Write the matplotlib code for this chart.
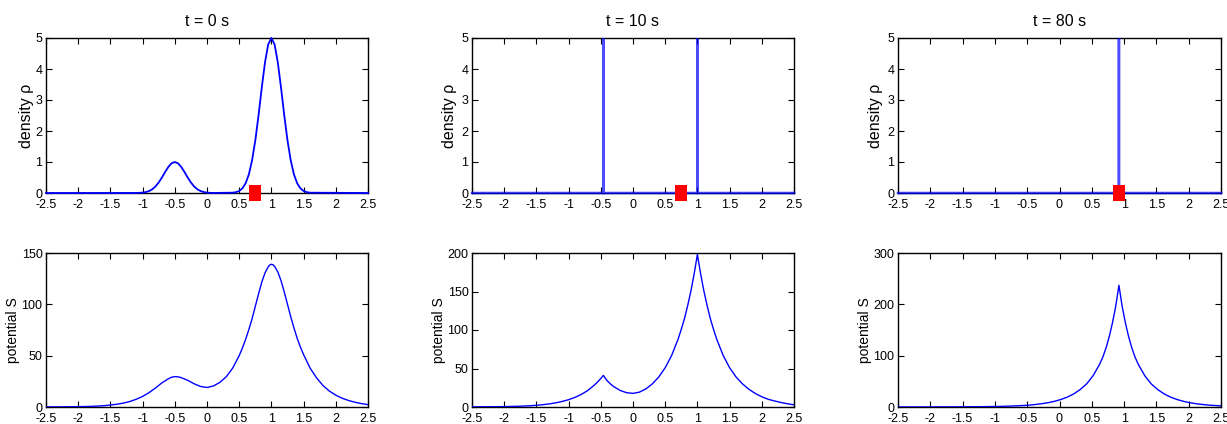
import matplotlib
matplotlib.use("Agg")
import matplotlib.pyplot as plt
from matplotlib.path import Path
from matplotlib import font_manager

# ---------------- data ----------------
titles = ["t = 0 s", "t = 10 s", "t = 80 s"]
x_ticks = [-2.5, -2, -1.5, -1, -0.5, 0, 0.5, 1, 1.5, 2, 2.5]
x_tick_labels = ["-2.5", "-2", "-1.5", "-1", "-0.5", "0", "0.5", "1", "1.5", "2", "2.5"]
rho_ticks = [0, 1, 2, 3, 4, 5]
S_ticks = [[0, 50, 100, 150], [0, 50, 100, 150, 200], [0, 100, 200, 300]]
S_ylim = [150, 200, 300]

# density at t = 0 (two bumps)
rho0_x = [-2.5, -1.1, -1.05, -1.0, -0.95, -0.9, -0.85, -0.8, -0.75, -0.7, -0.65, -0.6, -0.55,
          -0.5, -0.45, -0.4, -0.35, -0.3, -0.25, -0.2, -0.15, -0.1, -0.05, 0.0, 0.05, 0.1,
          0.4, 0.45, 0.5, 0.55, 0.6, 0.65, 0.7, 0.75, 0.8, 0.85, 0.9, 0.95,
          1.0, 1.05, 1.1, 1.15, 1.2, 1.25, 1.3, 1.35, 1.4, 1.45, 1.5, 1.55, 1.6, 2.5]
rho0_y = [0.0, 0.002, 0.005, 0.013, 0.03, 0.063, 0.12, 0.211, 0.339, 0.5, 0.678, 0.841, 0.958,
          1.0, 0.958, 0.841, 0.678, 0.5, 0.339, 0.211, 0.12, 0.063, 0.03, 0.013, 0.005, 0.002,
          0.01, 0.027, 0.065, 0.15, 0.315, 0.6, 1.055, 1.695, 2.5, 3.39, 4.205, 4.79,
          5.0, 4.79, 4.205, 3.39, 2.5, 1.695, 1.055, 0.6, 0.315, 0.15, 0.065, 0.027, 0.01, 0.0]

# density at t = 10 (two concentrated spikes, off the top of the axis) and t = 80 (one spike)
rho10_x = [-2.5, -0.462, -0.46, -0.458, 0.998, 1.0, 1.002, 2.5]
rho10_y = [0, 0, 5, 0, 0, 5, 0, 0]
rho80_x = [-2.5, 0.918, 0.92, 0.922, 2.5]
rho80_y = [0, 0, 5, 0, 0]

# red marker positions
marker_x = [0.75, 0.75, 0.92]
marker_y = [0, 0, 0]

# potential S at t = 0
S0_x = [-2.5, -2.4, -2.3, -2.2, -2.1, -2.0, -1.9, -1.8, -1.7, -1.6, -1.5, -1.4, -1.3, -1.2,
        -1.1, -1.0, -0.9, -0.8, -0.7, -0.6, -0.55, -0.5, -0.45, -0.4, -0.3, -0.2, -0.1, 0.0,
        0.1, 0.2, 0.3, 0.4, 0.5, 0.55, 0.6, 0.65, 0.7, 0.75, 0.8, 0.85, 0.9, 0.95, 0.975,
        1.0, 1.025, 1.05, 1.1, 1.15, 1.2, 1.25, 1.3, 1.35, 1.4, 1.45, 1.5, 1.6, 1.7, 1.8,
        1.9, 2.0, 2.1, 2.2, 2.3, 2.4, 2.5]
S0_y = [0.1, 0.12, 0.15, 0.2, 0.25, 0.3, 0.45, 0.6, 0.9, 1.3, 1.9, 2.7, 3.8, 5.3,
        7.5, 10.3, 14, 18.5, 23.5, 27.5, 29, 29.6, 29.4, 28.6, 26, 22.6, 20, 19,
        20.5, 24, 29.5, 38, 50, 57.5, 66, 75.5, 86, 98, 110, 121.5, 130.5, 136.5, 138.4,
        139, 138.5, 137, 131.5, 123, 112, 100, 88, 77, 67, 58.5, 51, 38, 28.5, 21,
        15.5, 11.5, 8.5, 6.3, 4.6, 3.3, 2.3]

# potential S at t = 10
S10_x = [-2.5, -2.2, -2.0, -1.9, -1.8, -1.7, -1.6, -1.5, -1.4, -1.3, -1.2, -1.1, -1.0, -0.9,
         -0.8, -0.7, -0.6, -0.55, -0.5, -0.46, -0.43, -0.4, -0.35, -0.3, -0.2, -0.1, 0.0,
         0.1, 0.2, 0.3, 0.4, 0.5, 0.6, 0.7, 0.75, 0.8, 0.85, 0.9, 0.95, 1.0, 1.05, 1.1,
         1.15, 1.2, 1.25, 1.3, 1.4, 1.5, 1.6, 1.7, 1.8, 1.9, 2.0, 2.1, 2.2, 2.3, 2.4, 2.5]
S10_y = [0.2, 0.35, 0.5, 0.7, 0.9, 1.2, 1.6, 2.2, 3.0, 4.0, 5.4, 7.2, 9.5, 12.5,
         16.5, 21.5, 28.5, 32.5, 37, 41, 37.5, 34, 30, 26.5, 21.5, 18.6, 17.7,
         19.3, 23.5, 30, 39, 51, 67, 88, 101, 115, 132, 151, 173, 198, 173, 151,
         132, 115, 101, 88, 67, 51, 39, 30, 23, 17.5, 13.3, 10, 7.8, 5.8, 4.2, 2.8]

# potential S at t = 80
S80_x = [-2.5, -2.0, -1.5, -1.2, -0.98, -0.88, -0.78, -0.68, -0.58, -0.48, -0.38, -0.28, -0.18,
         -0.08, 0.02, 0.12, 0.22, 0.32, 0.42, 0.52, 0.62, 0.67, 0.72, 0.77, 0.82, 0.87,
         0.92, 0.97, 1.02, 1.07, 1.12, 1.17, 1.22, 1.32, 1.42, 1.52, 1.62, 1.72, 1.82,
         1.92, 2.02, 2.12, 2.22, 2.32, 2.42, 2.5]
S80_y = [0.1, 0.2, 0.4, 0.65, 1.0, 1.3, 1.7, 2.2, 2.8, 3.5, 4.8, 6.3, 8.3,
         11, 14.6, 19.2, 25.5, 34, 45, 61, 83, 97, 115, 137, 164, 196,
         237, 196, 164, 137, 115, 97, 83, 61, 45, 34, 25.5, 19.2, 14.6,
         11, 8.3, 6.3, 4.8, 3.6, 2.8, 2.3]

# ---------------- style ----------------
avail = {f.name for f in font_manager.fontManager.ttflist}
narrow = "Liberation Sans Narrow" if "Liberation Sans Narrow" in avail else "Liberation Sans"
plt.rcParams["font.family"] = [narrow, "DejaVu Sans"]
plt.rcParams["axes.unicode_minus"] = False

fig = plt.figure(figsize=(12.27, 4.24), dpi=100)
W, H = 1227.0, 424.0

col_left = [46, 472, 898]
col_width = [322, 322, 323]
top_row = (38, 193)
bot_row = (253, 407)

rho_data = [(rho0_x, rho0_y), (rho10_x, rho10_y), (rho80_x, rho80_y)]
S_data = [(S0_x, S0_y), (S10_x, S10_y), (S80_x, S80_y)]
rho_label_x = [-0.038, -0.048, -0.046]
S_label_x = [-0.08, -0.08, -0.08]

rect = Path([(-0.345, -0.5), (0.345, -0.5), (0.345, 0.5), (-0.345, 0.5), (-0.345, -0.5)],
            [Path.MOVETO, Path.LINETO, Path.LINETO, Path.LINETO, Path.CLOSEPOLY])


def make_ax(left, width, row):
    t, b = row
    return fig.add_axes([left / W, 1 - b / H, width / W, (b - t) / H])


def style(ax, yticks, ylim):
    ax.set_xlim(-2.5, 2.5)
    ax.set_ylim(0, ylim)
    ax.set_xticks(x_ticks)
    ax.set_xticklabels(x_tick_labels)
    ax.set_yticks(yticks)
    ax.set_yticklabels([str(v) for v in yticks])
    ax.tick_params(direction="in", top=True, right=True, length=4, width=0.8,
                   labelsize=9, colors="black")
    ax.tick_params(axis="y", pad=2.5)
    ax.tick_params(axis="x", pad=4)
    for sp in ax.spines.values():
        sp.set_linewidth(1.0)
        sp.set_color("black")


for i in range(3):
    # density row
    ax = make_ax(col_left[i], col_width[i], top_row)
    style(ax, rho_ticks, 5)
    xs, ys = rho_data[i]
    if i == 0:
        ax.plot(xs, ys, color="#0000ff", lw=1.3, zorder=3, clip_on=False)
    else:
        ax.plot(xs, ys, color="#0000ff", lw=1.8, alpha=0.7, zorder=3, clip_on=False,
                solid_joinstyle="miter")
    ax.plot([marker_x[i]], [marker_y[i]], linestyle="none", marker=rect, markersize=11.5,
            color="#ff0000", markeredgewidth=0, zorder=5, clip_on=False)
    ax.set_title(titles[i], fontsize=11.5, pad=9)
    ax.set_ylabel("density ρ", fontsize=11.5, family=["Liberation Sans", "DejaVu Sans"])
    ax.yaxis.set_label_coords(rho_label_x[i], 0.5)

    # potential row
    ax2 = make_ax(col_left[i], col_width[i], bot_row)
    style(ax2, S_ticks[i], S_ylim[i])
    xs, ys = S_data[i]
    ax2.plot(xs, ys, color="#0000ff", lw=1.0, zorder=3)
    ax2.set_ylabel("potential S", fontsize=10, family=["Liberation Sans", "DejaVu Sans"])
    ax2.yaxis.set_label_coords(S_label_x[i], 0.5)

fig.savefig("out.png", dpi=100)
